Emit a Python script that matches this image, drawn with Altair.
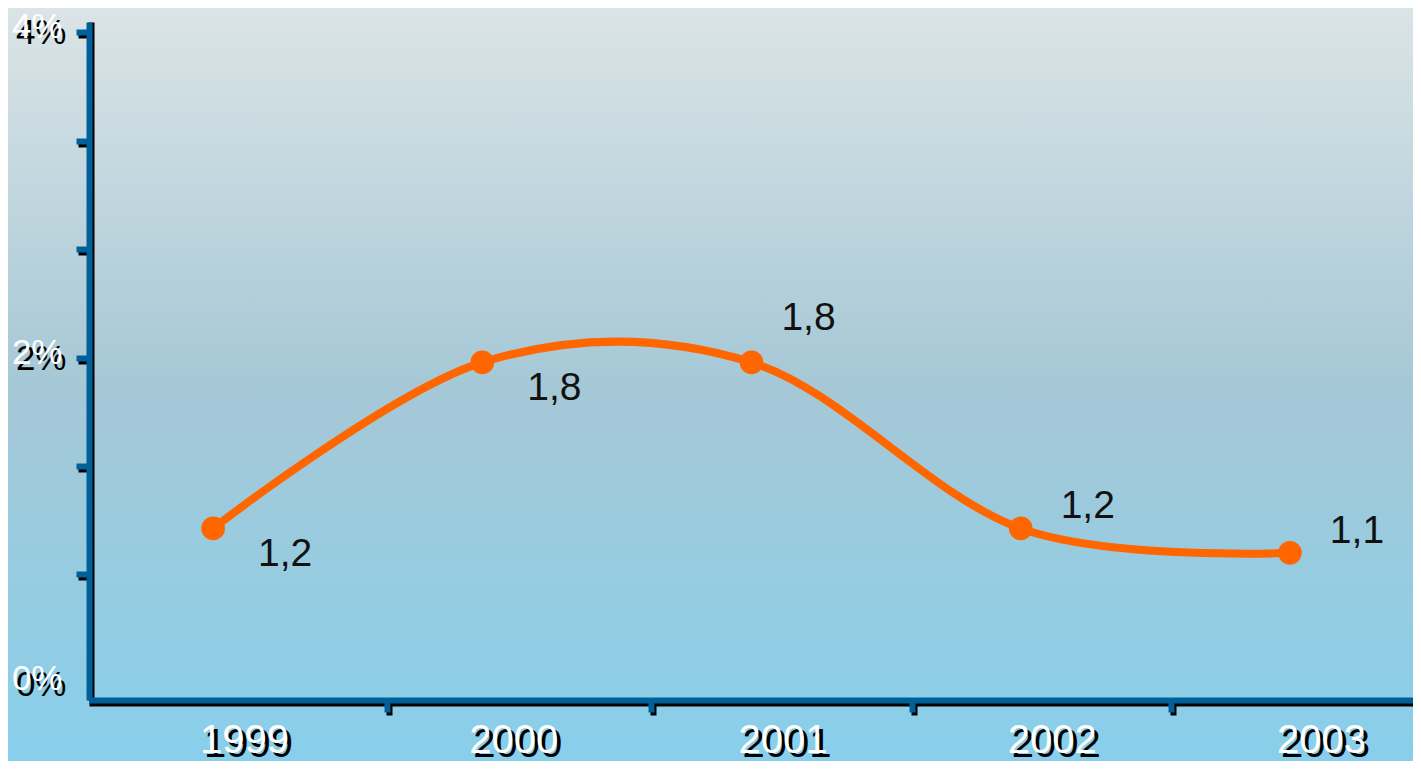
import altair as alt
import pandas as pd

# ---- data ----
years = [1999, 2000, 2001, 2002, 2003]
values = [0.95, 1.97, 1.97, 0.95, 0.80]
value_labels = ["1,2", "1,8", "1,8", "1,2", "1,1"]
label_place = ["below", "below", "above", "side", "side"]
y_tick_values = [0, 0.667, 1.333, 2, 2.667, 3.333, 4]
x_tick_values = [1999, 1999.647, 2000, 2000.628, 2001, 2001.595, 2002, 2002.558, 2003]

df = pd.DataFrame({"year": years, "value": values, "label": value_labels, "place": label_place})

W, H = 1324, 678
PAD = {"left": 81, "top": 14, "right": 0, "bottom": 61}
FONT = "Liberation Sans"
BLUE = "#00609a"
ORANGE = "#ff6600"

x_scale = alt.Scale(domain=[1998.539, 2003.457], nice=False, zero=False)
y_scale = alt.Scale(domain=[-0.104, 4.061], nice=False, zero=False)

x_label_expr = "datum.value % 1 === 0 ? '' + datum.value : ''"
y_label_expr = "indexof([0, 2, 4], datum.value) >= 0 ? datum.value + '%' : ''"
x_tick_op = {"condition": {"test": "datum.value % 1 === 0", "value": 0}, "value": 1}
y_tick_op = {"condition": {"test": "datum.value === 0", "value": 0}, "value": 1}


def x_axis(color, label_color, offset, tick_offset, label_offset, label_padding, z):
    return alt.Axis(
        orient="bottom", values=x_tick_values, title=None, grid=False,
        domainColor=color, domainWidth=6, tickColor=color, tickWidth=6, tickSize=12,
        tickOpacity=x_tick_op, tickOffset=tick_offset, offset=offset,
        labelExpr=x_label_expr, labelColor=label_color, labelFont=FONT, labelFontSize=40,
        labelOffset=label_offset, labelPadding=label_padding, labelFlush=False,
        labelOverlap=False, labelBound=False, zindex=z,
    )


def y_axis(color, label_color, offset, tick_offset, label_offset, label_padding, z):
    return alt.Axis(
        orient="left", values=y_tick_values, title=None, grid=False,
        domainColor=color, domainWidth=6, tickColor=color, tickWidth=6, tickSize=13,
        tickOpacity=y_tick_op, tickOffset=tick_offset, offset=offset,
        labelExpr=y_label_expr, labelColor=label_color, labelFont=FONT, labelFontSize=35,
        labelOffset=label_offset, labelPadding=label_padding, labelFlush=False,
        labelOverlap=False, labelBound=False, zindex=z,
    )


bg = alt.Chart(pd.DataFrame({"a": [0]})).mark_rect(
    fill=alt.Gradient(
        gradient="linear",
        stops=[
            alt.GradientStop(color="#dbe4e6", offset=0),
            alt.GradientStop(color="#a6c8d6", offset=0.5),
            alt.GradientStop(color="#88cfeb", offset=1),
        ],
        x1=0, y1=0, x2=0, y2=1,
    )
).encode(
    x=alt.value(-PAD["left"]), x2=alt.value(W),
    y=alt.value(-PAD["top"]), y2=alt.value(H + PAD["bottom"]),
)

base = alt.Chart(df)

shadow_axes = base.mark_point(opacity=0).encode(
    x=alt.X("year:Q", scale=x_scale, axis=x_axis("black", "black", 3, 2, 33, 9, 1)),
    y=alt.Y("value:Q", scale=y_scale, axis=y_axis("black", "black", -2, 3, -2, 12, 1)),
)

line = base.mark_line(color=ORANGE, strokeWidth=8, interpolate="cardinal").encode(
    x=alt.X("year:Q", scale=x_scale, axis=x_axis(BLUE, "white", 0, 0, 31, 8, 2)),
    y=alt.Y("value:Q", scale=y_scale, axis=y_axis(BLUE, "white", 0, 0, -5, 14, 2)),
)

points = base.mark_circle(color=ORANGE, size=560, opacity=1).encode(
    x=alt.X("year:Q", scale=x_scale, axis=None),
    y=alt.Y("value:Q", scale=y_scale, axis=None),
)


def labels(place, dx, dy):
    return base.transform_filter(alt.datum.place == place).mark_text(
        font=FONT, fontSize=39, color="#111111", dx=dx, dy=dy,
        align="center", baseline="middle",
    ).encode(
        x=alt.X("year:Q", scale=x_scale, axis=None),
        y=alt.Y("value:Q", scale=y_scale, axis=None),
        text="label:N",
    )


chart = alt.layer(
    bg, shadow_axes, line, points,
    labels("below", 72, 26), labels("above", 57, -44), labels("side", 67, -22),
).resolve_axis(x="independent", y="independent").properties(
    width=W, height=H,
    autosize=alt.AutoSizeParams(type="none"),
    padding=PAD,
).configure_view(stroke=None).configure(background="#88cfeb")

chart.save("out.html", embed_options={"renderer": "svg", "actions": False})
